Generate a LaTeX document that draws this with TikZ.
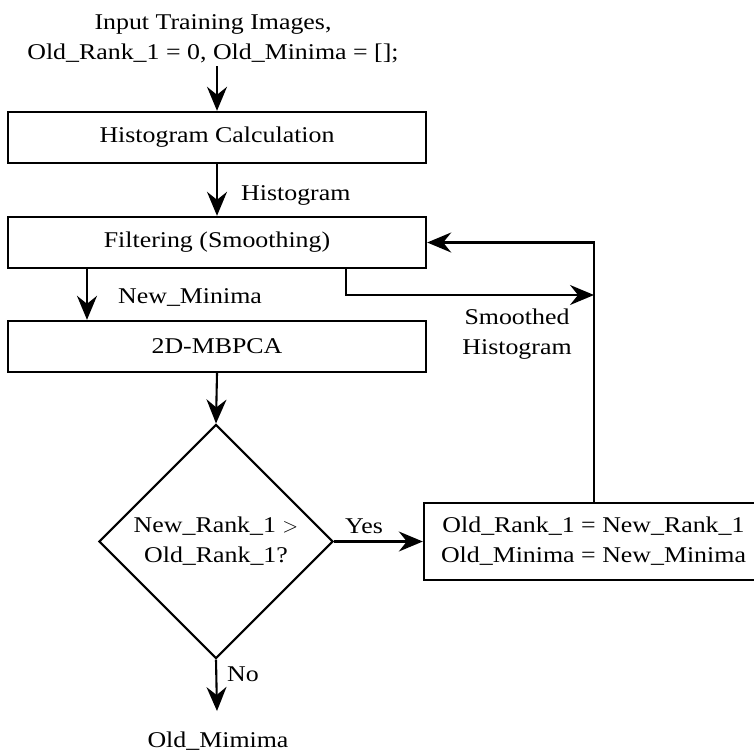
\documentclass[tikz,border=0pt]{standalone}
\usepackage{fontspec}
\setmainfont{Liberation Serif}[FakeStretch=1.15]
\usetikzlibrary{shapes.geometric,arrows.meta,calc}
\begin{document}
\begin{tikzpicture}[x=1pt,y=-1pt,
  every node/.style={font=\fontsize{22.5}{30}\selectfont},
  box/.style={draw,line width=2.4pt,inner sep=0pt,align=center},
  dec/.style={draw,diamond,line width=2.1pt,inner sep=0pt,minimum width=234pt,minimum height=234pt,align=center},
  lbl/.style={inner sep=0pt,anchor=base west},
  arr/.style={line width=2.1pt,-{Stealth[length=24pt,width=20pt,inset=8pt]}}]
\useasboundingbox (0,0) rectangle (754,750);
\node[inner sep=0pt,align=center] (in) at (213,39) {Input Training Images,\\Old\_Rank\_1 = 0, Old\_Minima = [];};
\node[box,minimum width=418pt,minimum height=51pt] (b1) at (217,137.5) {Histogram Calculation};
\node[box,minimum width=418pt,minimum height=51pt] (b2) at (217,242.5) {Filtering (Smoothing)};
\node[box,minimum width=418pt,minimum height=51pt] (b3) at (217,346.5) {2D-MBPCA};
\node[dec] (dia) at (216,541.5) {New\_Rank\_1 $>$\\Old\_Rank\_1?};
\node[box,minimum width=339pt,minimum height=77pt] (b4) at (593.5,541.5) {Old\_Rank\_1 = New\_Rank\_1\\Old\_Minima = New\_Minima};
\node[inner sep=0pt,anchor=base] (out) at (218,747) {Old\_Mimima};
\coordinate (sm) at (594,295);
\coordinate (noend) at (217,711);
% labels
\node[lbl] (lh) at (241,200) {Histogram};
\node[lbl] (lnm) at (118,303) {New\_Minima};
\node[inner sep=0pt,align=center] (lsh) at (517,334) {Smoothed\\Histogram};
\node[lbl] (ly) at (345,533) {Yes};
\node[lbl] (lno) at (227,681) {No};
% connectors
\draw[arr] ([yshift=-3pt]b1.north |- in.south) -- (b1.north);
\draw[arr] (b1.south) -- (b2.north);
\draw[arr] ([xshift=-130pt]b2.south) -- ([xshift=-130pt]b3.north);
\draw[arr] ([xshift=129pt]b2.south) |- (sm);
\draw[arr] (b4.north -| sm) |- (b2.east);
\draw[arr] (b3.south) -- (dia.north);
\draw[arr] (dia.east) -- (b4.west);
\draw[arr] (dia.south) -- (noend);
\end{tikzpicture}
\end{document}
